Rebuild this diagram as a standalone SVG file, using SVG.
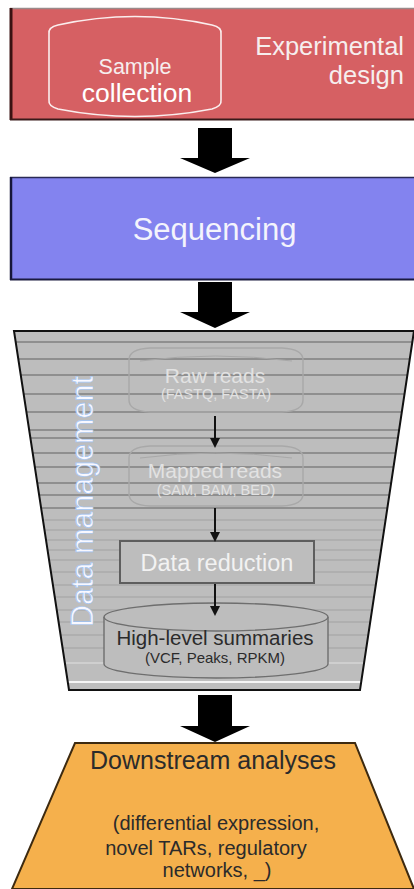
<svg xmlns="http://www.w3.org/2000/svg" width="414" height="889" viewBox="0 0 414 889">
  <style>
    .sans { font-family: "Liberation Sans", Arial, sans-serif; }
    .light { fill: #f6eeee; }
    .faint { fill: #e2e2e2; }
    .dark { fill: #2b2b2b; }
    .block-arrow { fill: #000; }
    .thin-arrow { stroke: #111; stroke-width: 2; fill: none; marker-end: url(#head); }
    .rule { stroke: #808080; stroke-width: 1.4; }
    .rule-soft { stroke: #a2a2a2; stroke-width: 1.2; }
  </style>
  <defs>
    <marker id="head" markerWidth="10" markerHeight="10" refX="8" refY="5" orient="auto" markerUnits="userSpaceOnUse">
      <path d="M0,0 L10,5 L0,10 Z" fill="#111"/>
    </marker>
    <clipPath id="funnel-clip">
      <path d="M14,331 L414,331 L360,690 L69,690 Z"/>
    </clipPath>
  </defs>

  <rect width="414" height="889" fill="#fff"/>

  <!-- Stage 1: experimental design -->
  <g id="experimental-design">
    <rect x="10" y="8" width="410" height="112" fill="#d66063"/>
    <line x1="10" y1="8.5" x2="414" y2="8.5" stroke="#9a8a8a" stroke-width="1.5"/>
    <line x1="11" y1="8" x2="11" y2="120" stroke="#3a1212" stroke-width="3"/>
    <line x1="10" y1="119.5" x2="414" y2="119.5" stroke="#3a1a1a" stroke-width="2"/>
    <g id="sample-collection">
      <path d="M49,34 Q48,27 58,25 Q135,8 212,25 Q222,27 221,34 L221,100 Q222,106 212,109 Q135,124 58,109 Q48,106 49,100 Z" fill="none" stroke="#fbeeee" stroke-width="1.6"/>
      <text class="sans light" x="135" y="74" font-size="21.5" text-anchor="middle">Sample</text>
      <text class="sans" x="137" y="102" font-size="26.5" text-anchor="middle" fill="#fff">collection</text>
    </g>
    <text class="sans light" x="404" y="55" font-size="25.5" text-anchor="end">Experimental</text>
    <text class="sans light" x="404" y="84" font-size="25.5" text-anchor="end">design</text>
  </g>

  <!-- Stage 2: sequencing -->
  <g id="sequencing">
    <rect x="10" y="177" width="410" height="103" fill="#8383ef"/>
    <line x1="10" y1="177.5" x2="414" y2="177.5" stroke="#2a2a55" stroke-width="1.5"/>
    <line x1="11" y1="177" x2="11" y2="280" stroke="#16163a" stroke-width="2.5"/>
    <line x1="10" y1="279.5" x2="414" y2="279.5" stroke="#1a1a40" stroke-width="2"/>
    <text class="sans" x="214.5" y="240" font-size="31" text-anchor="middle" fill="#f4f4fc">Sequencing</text>
  </g>

  <!-- Stage 3: data management funnel -->
  <g id="data-management">
    <path d="M14,331 L414,331 L360,690 L69,690 Z" fill="#bdbdbd"/>
    <g clip-path="url(#funnel-clip)">
      <line class="rule" x1="0" y1="342" x2="414" y2="342"/>
      <line class="rule" x1="0" y1="359" x2="414" y2="359"/>
      <line class="rule" x1="0" y1="375" x2="414" y2="375"/>
      <line class="rule" x1="0" y1="394" x2="414" y2="394"/>
      <line class="rule" x1="0" y1="412" x2="414" y2="412"/>
      <line class="rule" x1="0" y1="430" x2="414" y2="430"/>
      <line class="rule" x1="0" y1="438" x2="414" y2="438"/>
      <line class="rule" x1="0" y1="453" x2="414" y2="453"/>
      <line class="rule" x1="0" y1="467" x2="414" y2="467"/>
      <line class="rule" x1="0" y1="483" x2="414" y2="483"/>
      <line class="rule" x1="0" y1="495" x2="414" y2="495"/>
      <line class="rule" x1="0" y1="508" x2="414" y2="508"/>
      <line class="rule-soft" x1="0" y1="520" x2="414" y2="520"/>
      <line class="rule-soft" x1="0" y1="530" x2="414" y2="530"/>
      <line class="rule-soft" x1="0" y1="540" x2="414" y2="540"/>
      <line class="rule-soft" x1="0" y1="550" x2="414" y2="550"/>
      <line class="rule-soft" x1="0" y1="560" x2="414" y2="560"/>
      <line class="rule-soft" x1="0" y1="572" x2="414" y2="572"/>
      <line class="rule-soft" x1="0" y1="585" x2="414" y2="585"/>
      <line class="rule-soft" x1="0" y1="597" x2="414" y2="597"/>
      <line class="rule-soft" x1="0" y1="610" x2="414" y2="610"/>
      <line class="rule-soft" x1="0" y1="622" x2="414" y2="622"/>
      <line class="rule-soft" x1="0" y1="635" x2="414" y2="635"/>
      <line class="rule-soft" x1="0" y1="648" x2="414" y2="648"/>
      <line x1="0" y1="663" x2="414" y2="663" stroke="#d6d6d6" stroke-width="1.5"/>
      <line x1="0" y1="682" x2="414" y2="682" stroke="#f4f4f4" stroke-width="2"/>
    </g>
    <path d="M14,331 L414,331 L360,690 L69,690 Z" fill="none" stroke="#111" stroke-width="2"/>
    <text class="sans" transform="translate(93,627) rotate(-90)" font-size="30.5" fill="#f8f8ff" stroke="#9cc0f0" stroke-width="0.6">Data management</text>
  </g>

  <g id="raw-reads">
    <path d="M129,360 Q129,349 150,348 L282,348 Q303,349 303,360 L303,400 Q303,411 282,412 L150,412 Q129,411 129,400 Z" fill="none" stroke="#a8a8a8" stroke-width="1.4"/>
    <path d="M140,361 Q215,351 292,361" fill="none" stroke="#a8a8a8" stroke-width="1"/>
    <text class="sans faint" x="215" y="383" font-size="21" text-anchor="middle">Raw reads</text>
    <text class="sans faint" x="216" y="399" font-size="14.5" text-anchor="middle">(FASTQ, FASTA)</text>
  </g>

  <g id="mapped-reads">
    <path d="M129,458 Q129,447 150,446 L282,446 Q303,447 303,458 L303,494 Q303,505 282,506 L150,506 Q129,505 129,494 Z" fill="none" stroke="#a8a8a8" stroke-width="1.4"/>
    <path d="M140,458 Q215,448 292,458" fill="none" stroke="#a8a8a8" stroke-width="1"/>
    <text class="sans faint" x="215" y="478" font-size="21" text-anchor="middle">Mapped reads</text>
    <text class="sans faint" x="216" y="495" font-size="14.5" text-anchor="middle">(SAM, BAM, BED)</text>
  </g>

  <g id="data-reduction">
    <rect x="120" y="541" width="194" height="42" fill="#bdbdbd" stroke="#5e5e5e" stroke-width="2"/>
    <text class="sans" x="217" y="571" font-size="23.5" text-anchor="middle" fill="#f2f2f2">Data reduction</text>
  </g>

  <g id="high-level-summaries">
    <path d="M104,617 L104,664 A112,14 0 0 0 328,664 L328,617" fill="#bdbdbd" stroke="#6e6e6e" stroke-width="1.4"/>
    <ellipse cx="216" cy="617" rx="112" ry="14" fill="#bdbdbd" stroke="#6e6e6e" stroke-width="1.4"/>
    <text class="sans dark" x="215" y="645" font-size="20.5" text-anchor="middle">High-level summaries</text>
    <text class="sans dark" x="215" y="663" font-size="15" text-anchor="middle">(VCF, Peaks, RPKM)</text>
  </g>

  <!-- Stage 4: downstream analyses -->
  <g id="downstream-analyses">
    <path d="M75,743 L355,743 L414,889 L12,889 Z" fill="#f5b04c" stroke="#3d2a10" stroke-width="2"/>
    <text class="sans dark" x="213" y="769" font-size="25" text-anchor="middle">Downstream analyses</text>
    <text class="sans dark" x="216" y="830" font-size="20" text-anchor="middle">(differential expression,</text>
    <text class="sans dark" x="206" y="855" font-size="20" text-anchor="middle">novel TARs, regulatory</text>
    <text class="sans dark" x="217" y="877" font-size="20" text-anchor="middle">networks, _)</text>
  </g>

  <!-- Connectors -->
  <g id="connectors">
    <path class="block-arrow" d="M198,128 L232,128 L232,158 L250,158 L215,173 L180,158 L198,158 Z"/>
    <path class="block-arrow" d="M198,282 L232,282 L232,312 L250,312 L215,328 L180,312 L198,312 Z"/>
    <path class="block-arrow" d="M198,695 L232,695 L232,726 L250,726 L215,742 L180,726 L198,726 Z"/>
    <line class="thin-arrow" x1="215" y1="416" x2="215" y2="446"/>
    <line class="thin-arrow" x1="215" y1="508" x2="215" y2="540"/>
    <line class="thin-arrow" x1="215" y1="584" x2="215" y2="614"/>
  </g>
</svg>
